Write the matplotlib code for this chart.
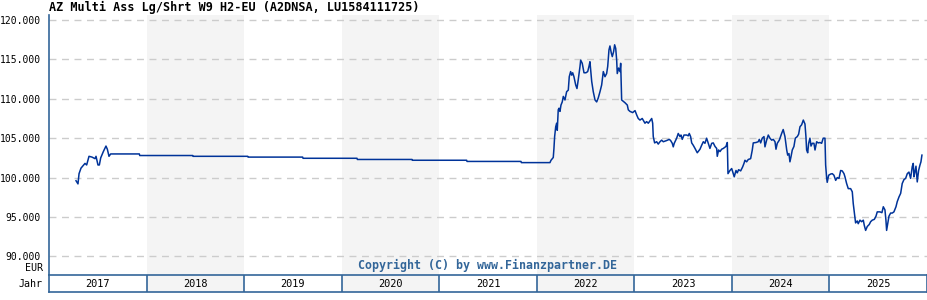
import matplotlib
matplotlib.use("Agg")
import matplotlib.pyplot as plt

# fund price (EUR), x as decimal year
years = [
    2017.277, 2017.297, 2017.308, 2017.328, 2017.369, 2017.386, 2017.410, 2017.441,
    2017.472, 2017.482, 2017.502, 2017.516, 2017.530, 2017.557, 2017.584, 2017.598,
    2017.615, 2017.632,
    2017.926, 2017.930, 2018.473, 2018.477, 2019.037, 2019.041, 2019.600, 2019.604,
    2020.157, 2020.161, 2020.721, 2020.725, 2021.281, 2021.285, 2021.838, 2021.842,
    2022.128,
    2022.135, 2022.146, 2022.169, 2022.176, 2022.183, 2022.194, 2022.204, 2022.210,
    2022.220, 2022.228, 2022.238, 2022.248, 2022.261, 2022.272, 2022.289, 2022.306,
    2022.323, 2022.333, 2022.347, 2022.358, 2022.368, 2022.381, 2022.399, 2022.412,
    2022.425, 2022.443, 2022.450, 2022.466, 2022.484, 2022.504, 2022.522, 2022.535,
    2022.545, 2022.556, 2022.563, 2022.579, 2022.597, 2022.614, 2022.630, 2022.648,
    2022.665, 2022.682, 2022.699, 2022.716, 2022.727, 2022.740, 2022.750, 2022.764,
    2022.774, 2022.788, 2022.798, 2022.809, 2022.819, 2022.825, 2022.839, 2022.853,
    2022.860, 2022.870,
    2022.904, 2022.928, 2022.938, 2022.955, 2022.983, 2023.007, 2023.024, 2023.040,
    2023.058, 2023.081, 2023.099, 2023.109, 2023.126, 2023.143, 2023.160, 2023.178,
    2023.188, 2023.194, 2023.208, 2023.229, 2023.245, 2023.263, 2023.280, 2023.297,
    2023.331, 2023.358, 2023.372, 2023.389, 2023.399, 2023.409, 2023.434, 2023.450,
    2023.468, 2023.478, 2023.491, 2023.509, 2023.536, 2023.553, 2023.563, 2023.577,
    2023.588, 2023.604, 2023.622, 2023.645, 2023.673, 2023.690, 2023.707, 2023.724,
    2023.741, 2023.758, 2023.775, 2023.793, 2023.809, 2023.827, 2023.844, 2023.850,
    2023.864, 2023.878, 2023.895, 2023.912, 2023.939, 2023.953,
    2023.960, 2023.980, 2023.998, 2024.014, 2024.024, 2024.042, 2024.055, 2024.069,
    2024.090, 2024.110, 2024.124, 2024.134, 2024.151, 2024.168, 2024.192, 2024.209,
    2024.219, 2024.247, 2024.270, 2024.281, 2024.295, 2024.311, 2024.329, 2024.339,
    2024.356, 2024.373, 2024.390, 2024.408, 2024.424, 2024.442, 2024.452, 2024.465,
    2024.486, 2024.510, 2024.526, 2024.544, 2024.562, 2024.572, 2024.585, 2024.595,
    2024.606, 2024.619, 2024.636, 2024.650, 2024.670, 2024.684, 2024.698, 2024.715,
    2024.732, 2024.749, 2024.759, 2024.766, 2024.777, 2024.787, 2024.800, 2024.811,
    2024.824, 2024.841, 2024.852, 2024.869, 2024.885, 2024.903, 2024.920, 2024.936,
    2024.954, 2024.961, 2024.971, 2024.977, 2024.992,
    2025.012, 2025.029, 2025.046, 2025.064, 2025.080, 2025.098, 2025.115, 2025.131,
    2025.149, 2025.159, 2025.176, 2025.193, 2025.217, 2025.234, 2025.244, 2025.254,
    2025.268, 2025.285, 2025.295, 2025.313, 2025.330, 2025.347, 2025.357, 2025.371,
    2025.388, 2025.408, 2025.422, 2025.439, 2025.460, 2025.477, 2025.490, 2025.518,
    2025.538, 2025.552, 2025.569, 2025.579, 2025.586, 2025.597, 2025.610, 2025.627,
    2025.644, 2025.661, 2025.682, 2025.695, 2025.713, 2025.730, 2025.746, 2025.764,
    2025.781, 2025.798, 2025.815, 2025.832, 2025.849, 2025.859, 2025.866, 2025.876,
    2025.887, 2025.900, 2025.914, 2025.928, 2025.938, 2025.948,
]
prices = [
    99.6, 99.2, 100.5, 101.2, 101.8, 101.6, 102.7, 102.6,
    102.4, 102.7, 101.6, 101.6, 102.5, 103.3, 104.0, 103.6,
    102.7, 103.0,
    103.0, 102.8, 102.8, 102.7, 102.7, 102.6, 102.6, 102.45,
    102.45, 102.3, 102.3, 102.2, 102.2, 102.05, 102.05, 101.9,
    101.9,
    101.9, 102.2, 102.55, 103.7, 105.2, 106.45, 106.9, 106.0,
    108.6, 108.8, 108.4, 109.2, 109.6, 110.3, 109.85, 110.9,
    111.1, 112.8, 113.45, 113.0, 113.3, 112.8, 111.75, 111.3,
    112.4, 114.1, 114.9, 114.5, 113.3, 113.3, 113.45, 114.1,
    114.7, 113.2, 112.2, 110.9, 109.85, 109.6, 110.1, 110.9,
    111.75, 113.45, 112.8, 113.2, 114.1, 116.2, 116.7, 115.8,
    115.35, 116.0, 116.85, 116.4, 114.9, 113.2, 113.9, 113.45,
    114.5, 109.85,
    109.5, 109.2, 108.6, 108.4, 108.25, 108.5, 107.95, 107.5,
    107.3, 107.5, 107.1, 106.9, 107.1, 106.9, 107.2, 107.5,
    106.9, 105.2, 104.4, 104.55, 104.25, 104.55, 104.75, 104.55,
    104.7, 104.85, 104.7, 104.35, 103.9, 104.35, 105.0, 105.6,
    105.2, 105.4, 104.85, 105.4, 105.4, 105.3, 105.6, 105.2,
    104.4, 104.1, 103.7, 103.15, 103.6, 104.1, 104.55, 104.35,
    105.0, 104.35, 103.7, 104.35, 104.4, 103.95, 103.7, 102.7,
    103.5, 103.3, 103.6, 103.7, 103.95, 104.45,
    100.5, 100.9, 101.15, 100.5, 100.1, 100.9, 100.6, 101.0,
    100.85, 101.35, 101.8, 102.2, 102.0, 102.3, 102.4, 103.5,
    104.4, 104.45, 104.55, 104.85, 104.4, 105.0, 105.2, 103.9,
    104.75, 105.4, 105.0, 104.75, 104.85, 104.55, 103.6, 104.35,
    104.75, 105.6, 106.1, 105.2, 103.5, 102.85, 103.05, 102.0,
    102.65, 103.5, 103.95, 105.0, 105.2, 105.5, 106.45, 106.7,
    107.3, 106.8, 105.2, 103.5, 103.15, 104.35, 105.0, 104.0,
    104.35, 104.35, 103.5, 104.55, 104.4, 104.45, 104.35, 105.0,
    105.0, 101.6, 100.0, 99.4, 100.3,
    100.45, 100.5, 100.3, 99.65, 100.0, 99.9, 100.9, 100.85,
    100.5, 100.1, 99.25, 98.6, 98.6, 98.2, 96.7, 95.65,
    94.25, 94.5, 94.15, 94.6, 94.4, 94.6, 93.95, 93.3,
    93.8, 94.05, 94.4, 94.6, 94.7, 95.1, 95.65, 95.65,
    95.55, 96.3, 95.9, 94.6, 93.3, 94.15, 95.1, 95.5,
    95.5, 95.65, 96.3, 96.95, 97.55, 98.0, 99.25, 99.75,
    99.9, 100.5, 100.7, 99.9, 101.4, 101.8, 100.1, 100.7,
    101.45, 99.45, 100.9, 101.6, 102.0, 102.85,
]

year_labels = [2017, 2018, 2019, 2020, 2021, 2022, 2023, 2024, 2025]
shaded_years = [2018, 2020, 2022, 2024]
y_ticks = [90, 95, 100, 105, 110, 115, 120]

title = "AZ Multi Ass Lg/Shrt W9 H2-EU (A2DNSA, LU1584111725)"
frame_col = "#336699"
line_col = "#003399"
shade_col = "#f4f4f4"
mono = "DejaVu Sans Mono"

W, H = 928, 300
fig = plt.figure(figsize=(W / 100, H / 100), dpi=100)

# main plot area
ax = fig.add_axes([49 / W, 1 - 275 / H, 878 / W, 260 / H])
ax.set_xlim(2017, 2026)
ax.set_ylim(87.64, 120.63)
for y in shaded_years:
    ax.axvspan(y, y + 1, color=shade_col, lw=0, zorder=0)
for v in y_ticks:
    ax.axhline(v, color="#cccccc", lw=1, ls=(0, (5, 4)), zorder=1)
ax.plot(years, prices, color=line_col, lw=1.1, zorder=3)

ax.set_yticks(y_ticks)
ax.set_yticklabels([f"{v}.000" for v in y_ticks], family=mono, fontsize=7.0)
ax.tick_params(axis="y", length=0, pad=6)
ax.set_xticks([])
for s in ax.spines.values():
    s.set_color(frame_col)
    s.set_linewidth(1.2)
ax.spines["top"].set_visible(False)
ax.spines["right"].set_visible(False)
ax.spines["bottom"].set_visible(False)

ax.text(0.5, 0.012, "Copyright (C) by www.Finanzpartner.DE", transform=ax.transAxes,
        ha="center", va="bottom", family=mono, fontsize=8.4, fontweight="bold",
        color=frame_col)

# year band
axb = fig.add_axes([49 / W, 1 - 292 / H, 878 / W, 17 / H])
axb.set_xlim(2017, 2026)
axb.set_ylim(0, 1)
for y in shaded_years:
    axb.axvspan(y, y + 1, color=shade_col, lw=0, zorder=0)
for y in year_labels[1:]:
    axb.axvline(y, color=frame_col, lw=1.2)
for y in year_labels:
    axb.text(y + 0.5, 0.45, str(y), ha="center", va="center", family=mono,
             fontsize=7.4, color="black")
axb.set_xticks([])
axb.set_yticks([])
for s in axb.spines.values():
    s.set_color(frame_col)
    s.set_linewidth(1.2)

fig.text(49 / W, 1 - 7 / H, title, ha="left", va="center", family=mono,
         fontsize=8.5, fontweight="bold", color="black")
fig.text(43 / W, 1 - 268 / H, "EUR", ha="right", va="center", family=mono,
         fontsize=7.2, color="black")
fig.text(43 / W, 1 - 284 / H, "Jahr", ha="right", va="center", family=mono,
         fontsize=7.2, color="black")

fig.savefig("out.png", dpi=100)
